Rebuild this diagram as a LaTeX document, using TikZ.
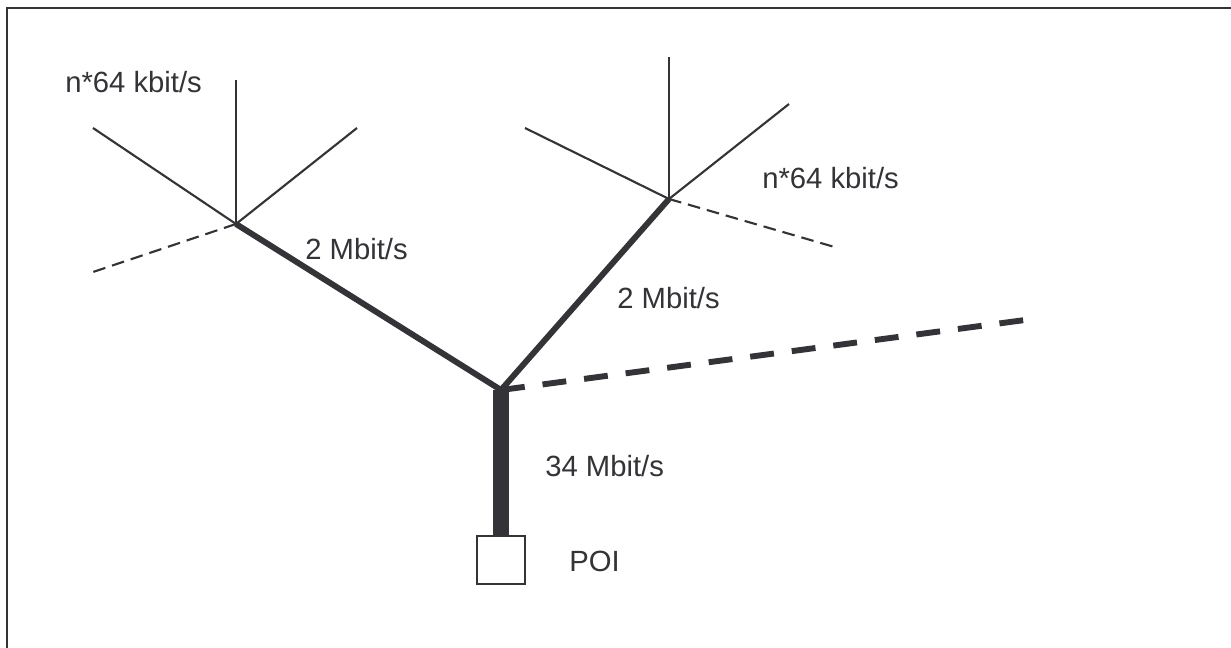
\documentclass[tikz,border=0pt]{standalone}
\usepackage{fontspec}
\setmainfont{Liberation Sans}
\definecolor{ink}{RGB}{51,51,56}
\tikzset{
  thinlink/.style={draw=ink, line width=1.5pt},
  thindash/.style={draw=ink, line width=1.5pt, dash pattern=on 9pt off 5pt},
  midlink/.style={draw=ink, line width=4.2pt},
  middash/.style={draw=ink, line width=4.2pt, dash pattern=on 17pt off 12.8pt},
  trunk/.style={draw=ink, line width=11.4pt},
  rate/.style={anchor=base west, inner sep=0pt, text=ink, font=\fontsize{20.8pt}{24pt}\selectfont},
  poibox/.style={draw=ink, line width=1.8pt, fill=white, minimum width=34pt, minimum height=34pt, inner sep=0pt},
  frame/.style={draw=ink, line width=2pt}
}
\begin{document}
\begin{tikzpicture}[x=0.025cm, y=-0.025cm]
  \useasboundingbox (0,0) rectangle (1231,648);
  \fill[white] (0,0) rectangle (1231,648);
  % open frame: top and left edges
  \coordinate (fTL) at (7,8);
  \coordinate (fTR) at (1231,8);
  \coordinate (fBL) at (7,648);
  \draw[frame] (fTR) -- (fTL) -- (fBL);

  % hubs
  \coordinate (hubL) at (236,224);
  \coordinate (hubR) at (669,199);
  \coordinate (hubC) at (501,390);

  % leaves of the left hub
  \coordinate (lUp) at (236,80);
  \coordinate (lUL) at (93,128);
  \coordinate (lUR) at (357,128);
  \coordinate (lDash) at (93,272);

  % leaves of the right hub
  \coordinate (rUp) at (669,57);
  \coordinate (rUL) at (525,128);
  \coordinate (rUR) at (789,104);
  \coordinate (rDash) at (838,248);

  % far end of the heavy dashed branch
  \coordinate (cDash) at (1025,320);

  % point of interconnection
  \node[poibox] (poi) at (501,560) {};

  % n*64 kbit/s links
  \draw[thinlink] (hubL) -- (lUp);
  \draw[thinlink] (hubL) -- (lUL);
  \draw[thinlink] (hubL) -- (lUR);
  \draw[thindash] (hubL) -- (lDash);
  \draw[thinlink] (hubR) -- (rUp);
  \draw[thinlink] (hubR) -- (rUL);
  \draw[thinlink] (hubR) -- (rUR);
  \draw[thindash] (hubR) -- (rDash);

  % 2 Mbit/s links
  \draw[midlink] (hubC) -- (hubL);
  \draw[midlink] (hubC) -- (hubR);
  \draw[middash] (hubC) -- (cDash);

  % 34 Mbit/s trunk
  \draw[trunk] (hubC) -- (poi.north);

  % rate labels
  \node[rate] (lblL) at (65,93) {n*64 kbit/s};
  \node[rate] (lblR) at (762,189) {n*64 kbit/s};
  \node[rate] (lbl2L) at (305,260) {2 Mbit/s};
  \node[rate] (lbl2R) at (617,309) {2 Mbit/s};
  \node[rate] (lbl34) at (545,477) {34 Mbit/s};
  \node[rate] (lblPOI) at (569,572) {POI};
\end{tikzpicture}
\end{document}
